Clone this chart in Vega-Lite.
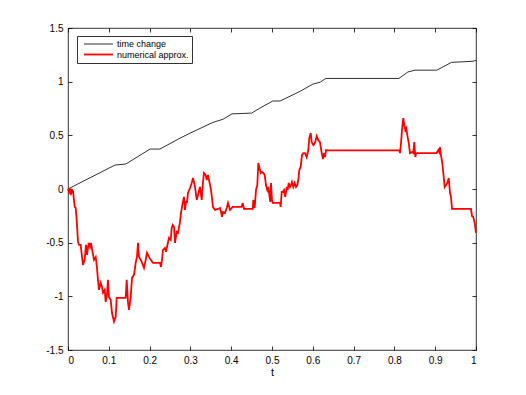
{
  "$schema": "https://vega.github.io/schema/vega-lite/v6.json",
  "width": 408,
  "height": 322,
  "autosize": {"type": "none"},
  "padding": {"left": 68, "top": 28, "right": 50, "bottom": 45},
  "background": "white",
  "config": {
    "view": {"stroke": "#000", "strokeWidth": 0.8},
    "font": "Liberation Sans",
    "axis": {
      "domain": false, "grid": false, "tickSize": -4, "tickColor": "#000", "tickWidth": 0.8,
      "labelFont": "Liberation Sans", "labelFontSize": 10, "labelColor": "#000",
      "labelExpr": "'' + datum.value",
      "titleFont": "Liberation Sans", "titleFontSize": 11, "titleFontWeight": "normal", "titleColor": "#000"
    }
  },
  "data": {"values": [
    {"s": "time change", "t": 0, "v": 0},
    {"s": "time change", "t": 0.115, "v": 0.223},
    {"s": "time change", "t": 0.142, "v": 0.233},
    {"s": "time change", "t": 0.201, "v": 0.372},
    {"s": "time change", "t": 0.225, "v": 0.372},
    {"s": "time change", "t": 0.275, "v": 0.474},
    {"s": "time change", "t": 0.299, "v": 0.52},
    {"s": "time change", "t": 0.355, "v": 0.62},
    {"s": "time change", "t": 0.38, "v": 0.65},
    {"s": "time change", "t": 0.402, "v": 0.7},
    {"s": "time change", "t": 0.45, "v": 0.707},
    {"s": "time change", "t": 0.47, "v": 0.753},
    {"s": "time change", "t": 0.502, "v": 0.82},
    {"s": "time change", "t": 0.52, "v": 0.82},
    {"s": "time change", "t": 0.569, "v": 0.91},
    {"s": "time change", "t": 0.6, "v": 0.977},
    {"s": "time change", "t": 0.618, "v": 0.995},
    {"s": "time change", "t": 0.632, "v": 1.03},
    {"s": "time change", "t": 0.811, "v": 1.03},
    {"s": "time change", "t": 0.833, "v": 1.09},
    {"s": "time change", "t": 0.85, "v": 1.107},
    {"s": "time change", "t": 0.904, "v": 1.107},
    {"s": "time change", "t": 0.94, "v": 1.18},
    {"s": "time change", "t": 0.993, "v": 1.19},
    {"s": "time change", "t": 1.0, "v": 1.2},
    {"s": "numerical approx.", "t": 0, "v": 0},
    {"s": "numerical approx.", "t": 0.0025, "v": -0.028},
    {"s": "numerical approx.", "t": 0.0049, "v": -0.009},
    {"s": "numerical approx.", "t": 0.0066, "v": -0.056},
    {"s": "numerical approx.", "t": 0.0098, "v": -0.009},
    {"s": "numerical approx.", "t": 0.0123, "v": -0.019},
    {"s": "numerical approx.", "t": 0.0164, "v": -0.167},
    {"s": "numerical approx.", "t": 0.0189, "v": -0.177},
    {"s": "numerical approx.", "t": 0.0213, "v": -0.288},
    {"s": "numerical approx.", "t": 0.0245, "v": -0.493},
    {"s": "numerical approx.", "t": 0.027, "v": -0.521},
    {"s": "numerical approx.", "t": 0.0311, "v": -0.521},
    {"s": "numerical approx.", "t": 0.0343, "v": -0.633},
    {"s": "numerical approx.", "t": 0.0368, "v": -0.707},
    {"s": "numerical approx.", "t": 0.0409, "v": -0.66},
    {"s": "numerical approx.", "t": 0.0441, "v": -0.521},
    {"s": "numerical approx.", "t": 0.0466, "v": -0.614},
    {"s": "numerical approx.", "t": 0.0507, "v": -0.502},
    {"s": "numerical approx.", "t": 0.0539, "v": -0.54},
    {"s": "numerical approx.", "t": 0.0564, "v": -0.502},
    {"s": "numerical approx.", "t": 0.0605, "v": -0.595},
    {"s": "numerical approx.", "t": 0.0637, "v": -0.66},
    {"s": "numerical approx.", "t": 0.0679, "v": -0.633},
    {"s": "numerical approx.", "t": 0.0711, "v": -0.735},
    {"s": "numerical approx.", "t": 0.0735, "v": -0.847},
    {"s": "numerical approx.", "t": 0.076, "v": -0.94},
    {"s": "numerical approx.", "t": 0.0801, "v": -0.874},
    {"s": "numerical approx.", "t": 0.0833, "v": -0.912},
    {"s": "numerical approx.", "t": 0.0858, "v": -0.967},
    {"s": "numerical approx.", "t": 0.09, "v": -0.94},
    {"s": "numerical approx.", "t": 0.0924, "v": -1.051},
    {"s": "numerical approx.", "t": 0.0956, "v": -0.986},
    {"s": "numerical approx.", "t": 0.098, "v": -0.847},
    {"s": "numerical approx.", "t": 0.1005, "v": -1.005},
    {"s": "numerical approx.", "t": 0.1047, "v": -1.033},
    {"s": "numerical approx.", "t": 0.1078, "v": -1.153},
    {"s": "numerical approx.", "t": 0.1127, "v": -1.235},
    {"s": "numerical approx.", "t": 0.1169, "v": -1.191},
    {"s": "numerical approx.", "t": 0.1194, "v": -1.014},
    {"s": "numerical approx.", "t": 0.1414, "v": -1.014},
    {"s": "numerical approx.", "t": 0.1439, "v": -0.847},
    {"s": "numerical approx.", "t": 0.1471, "v": -1.06},
    {"s": "numerical approx.", "t": 0.1495, "v": -1.126},
    {"s": "numerical approx.", "t": 0.1537, "v": -1.005},
    {"s": "numerical approx.", "t": 0.1569, "v": -0.828},
    {"s": "numerical approx.", "t": 0.1618, "v": -0.8},
    {"s": "numerical approx.", "t": 0.1659, "v": -0.688},
    {"s": "numerical approx.", "t": 0.1691, "v": -0.633},
    {"s": "numerical approx.", "t": 0.1716, "v": -0.502},
    {"s": "numerical approx.", "t": 0.174, "v": -0.633},
    {"s": "numerical approx.", "t": 0.1782, "v": -0.66},
    {"s": "numerical approx.", "t": 0.1814, "v": -0.688},
    {"s": "numerical approx.", "t": 0.1863, "v": -0.735},
    {"s": "numerical approx.", "t": 0.1904, "v": -0.66},
    {"s": "numerical approx.", "t": 0.1936, "v": -0.595},
    {"s": "numerical approx.", "t": 0.1985, "v": -0.633},
    {"s": "numerical approx.", "t": 0.2027, "v": -0.66},
    {"s": "numerical approx.", "t": 0.2083, "v": -0.688},
    {"s": "numerical approx.", "t": 0.2255, "v": -0.688},
    {"s": "numerical approx.", "t": 0.2279, "v": -0.726},
    {"s": "numerical approx.", "t": 0.2304, "v": -0.66},
    {"s": "numerical approx.", "t": 0.2328, "v": -0.567},
    {"s": "numerical approx.", "t": 0.2377, "v": -0.549},
    {"s": "numerical approx.", "t": 0.2402, "v": -0.586},
    {"s": "numerical approx.", "t": 0.2426, "v": -0.54},
    {"s": "numerical approx.", "t": 0.2475, "v": -0.456},
    {"s": "numerical approx.", "t": 0.2517, "v": -0.474},
    {"s": "numerical approx.", "t": 0.2542, "v": -0.363},
    {"s": "numerical approx.", "t": 0.2566, "v": -0.335},
    {"s": "numerical approx.", "t": 0.2598, "v": -0.353},
    {"s": "numerical approx.", "t": 0.2623, "v": -0.502},
    {"s": "numerical approx.", "t": 0.2664, "v": -0.4},
    {"s": "numerical approx.", "t": 0.2696, "v": -0.409},
    {"s": "numerical approx.", "t": 0.2745, "v": -0.307},
    {"s": "numerical approx.", "t": 0.277, "v": -0.223},
    {"s": "numerical approx.", "t": 0.2811, "v": -0.13},
    {"s": "numerical approx.", "t": 0.2843, "v": -0.074},
    {"s": "numerical approx.", "t": 0.2868, "v": -0.195},
    {"s": "numerical approx.", "t": 0.2892, "v": -0.121},
    {"s": "numerical approx.", "t": 0.2917, "v": -0.121},
    {"s": "numerical approx.", "t": 0.2941, "v": -0.037},
    {"s": "numerical approx.", "t": 0.299, "v": 0.009},
    {"s": "numerical approx.", "t": 0.3032, "v": 0.056},
    {"s": "numerical approx.", "t": 0.3064, "v": 0.102},
    {"s": "numerical approx.", "t": 0.3113, "v": 0.019},
    {"s": "numerical approx.", "t": 0.3154, "v": -0.102},
    {"s": "numerical approx.", "t": 0.3186, "v": -0.056},
    {"s": "numerical approx.", "t": 0.3235, "v": 0.019},
    {"s": "numerical approx.", "t": 0.3277, "v": -0.102},
    {"s": "numerical approx.", "t": 0.3309, "v": 0.065},
    {"s": "numerical approx.", "t": 0.3333, "v": 0.149},
    {"s": "numerical approx.", "t": 0.3375, "v": 0.13},
    {"s": "numerical approx.", "t": 0.34, "v": 0.084},
    {"s": "numerical approx.", "t": 0.3431, "v": 0.13},
    {"s": "numerical approx.", "t": 0.3456, "v": 0.084},
    {"s": "numerical approx.", "t": 0.3498, "v": 0.009},
    {"s": "numerical approx.", "t": 0.3529, "v": -0.084},
    {"s": "numerical approx.", "t": 0.3554, "v": -0.167},
    {"s": "numerical approx.", "t": 0.3603, "v": -0.195},
    {"s": "numerical approx.", "t": 0.3676, "v": -0.186},
    {"s": "numerical approx.", "t": 0.3725, "v": -0.177},
    {"s": "numerical approx.", "t": 0.375, "v": -0.214},
    {"s": "numerical approx.", "t": 0.3775, "v": -0.26},
    {"s": "numerical approx.", "t": 0.3799, "v": -0.214},
    {"s": "numerical approx.", "t": 0.3848, "v": -0.223},
    {"s": "numerical approx.", "t": 0.389, "v": -0.177},
    {"s": "numerical approx.", "t": 0.3922, "v": -0.13},
    {"s": "numerical approx.", "t": 0.3971, "v": -0.195},
    {"s": "numerical approx.", "t": 0.4012, "v": -0.177},
    {"s": "numerical approx.", "t": 0.4037, "v": -0.167},
    {"s": "numerical approx.", "t": 0.4257, "v": -0.167},
    {"s": "numerical approx.", "t": 0.4282, "v": -0.13},
    {"s": "numerical approx.", "t": 0.4314, "v": -0.186},
    {"s": "numerical approx.", "t": 0.4527, "v": -0.186},
    {"s": "numerical approx.", "t": 0.4542, "v": -0.102},
    {"s": "numerical approx.", "t": 0.4576, "v": -0.177},
    {"s": "numerical approx.", "t": 0.4608, "v": -0.009},
    {"s": "numerical approx.", "t": 0.464, "v": 0.037},
    {"s": "numerical approx.", "t": 0.4664, "v": 0.242},
    {"s": "numerical approx.", "t": 0.4689, "v": 0.205},
    {"s": "numerical approx.", "t": 0.4723, "v": 0.149},
    {"s": "numerical approx.", "t": 0.4755, "v": 0.158},
    {"s": "numerical approx.", "t": 0.4787, "v": 0.149},
    {"s": "numerical approx.", "t": 0.4821, "v": 0.13},
    {"s": "numerical approx.", "t": 0.4853, "v": 0.037},
    {"s": "numerical approx.", "t": 0.4885, "v": -0.009},
    {"s": "numerical approx.", "t": 0.4909, "v": 0.019},
    {"s": "numerical approx.", "t": 0.4934, "v": -0.056},
    {"s": "numerical approx.", "t": 0.4958, "v": -0.121},
    {"s": "numerical approx.", "t": 0.4975, "v": 0.056},
    {"s": "numerical approx.", "t": 0.5, "v": -0.102},
    {"s": "numerical approx.", "t": 0.5017, "v": -0.13},
    {"s": "numerical approx.", "t": 0.5196, "v": -0.13},
    {"s": "numerical approx.", "t": 0.5213, "v": -0.167},
    {"s": "numerical approx.", "t": 0.5238, "v": -0.028},
    {"s": "numerical approx.", "t": 0.5262, "v": -0.028},
    {"s": "numerical approx.", "t": 0.5294, "v": -0.009},
    {"s": "numerical approx.", "t": 0.5326, "v": -0.074},
    {"s": "numerical approx.", "t": 0.536, "v": 0.019},
    {"s": "numerical approx.", "t": 0.5385, "v": -0.009},
    {"s": "numerical approx.", "t": 0.5409, "v": 0.056},
    {"s": "numerical approx.", "t": 0.5441, "v": 0.019},
    {"s": "numerical approx.", "t": 0.5466, "v": 0.037},
    {"s": "numerical approx.", "t": 0.549, "v": 0.065},
    {"s": "numerical approx.", "t": 0.5522, "v": 0.019},
    {"s": "numerical approx.", "t": 0.5556, "v": 0.056},
    {"s": "numerical approx.", "t": 0.5588, "v": 0.019},
    {"s": "numerical approx.", "t": 0.562, "v": 0.037},
    {"s": "numerical approx.", "t": 0.5645, "v": 0.084},
    {"s": "numerical approx.", "t": 0.5669, "v": 0.177},
    {"s": "numerical approx.", "t": 0.5703, "v": 0.205},
    {"s": "numerical approx.", "t": 0.5735, "v": 0.316},
    {"s": "numerical approx.", "t": 0.5767, "v": 0.335},
    {"s": "numerical approx.", "t": 0.5809, "v": 0.335},
    {"s": "numerical approx.", "t": 0.585, "v": 0.298},
    {"s": "numerical approx.", "t": 0.589, "v": 0.363},
    {"s": "numerical approx.", "t": 0.5914, "v": 0.474},
    {"s": "numerical approx.", "t": 0.5949, "v": 0.521},
    {"s": "numerical approx.", "t": 0.5973, "v": 0.437},
    {"s": "numerical approx.", "t": 0.6012, "v": 0.409},
    {"s": "numerical approx.", "t": 0.6054, "v": 0.428},
    {"s": "numerical approx.", "t": 0.6096, "v": 0.493},
    {"s": "numerical approx.", "t": 0.6135, "v": 0.456},
    {"s": "numerical approx.", "t": 0.6176, "v": 0.437},
    {"s": "numerical approx.", "t": 0.6218, "v": 0.335},
    {"s": "numerical approx.", "t": 0.625, "v": 0.279},
    {"s": "numerical approx.", "t": 0.6275, "v": 0.335},
    {"s": "numerical approx.", "t": 0.6299, "v": 0.298},
    {"s": "numerical approx.", "t": 0.6324, "v": 0.363},
    {"s": "numerical approx.", "t": 0.6355, "v": 0.36},
    {"s": "numerical approx.", "t": 0.812, "v": 0.36},
    {"s": "numerical approx.", "t": 0.8137, "v": 0.335},
    {"s": "numerical approx.", "t": 0.8162, "v": 0.428},
    {"s": "numerical approx.", "t": 0.8186, "v": 0.549},
    {"s": "numerical approx.", "t": 0.8203, "v": 0.614},
    {"s": "numerical approx.", "t": 0.8218, "v": 0.66},
    {"s": "numerical approx.", "t": 0.8243, "v": 0.595},
    {"s": "numerical approx.", "t": 0.8267, "v": 0.549},
    {"s": "numerical approx.", "t": 0.8292, "v": 0.567},
    {"s": "numerical approx.", "t": 0.8316, "v": 0.502},
    {"s": "numerical approx.", "t": 0.8351, "v": 0.428},
    {"s": "numerical approx.", "t": 0.8382, "v": 0.335},
    {"s": "numerical approx.", "t": 0.8431, "v": 0.344},
    {"s": "numerical approx.", "t": 0.8463, "v": 0.335},
    {"s": "numerical approx.", "t": 0.8488, "v": 0.437},
    {"s": "numerical approx.", "t": 0.8512, "v": 0.298},
    {"s": "numerical approx.", "t": 0.8537, "v": 0.335},
    {"s": "numerical approx.", "t": 0.9037, "v": 0.335},
    {"s": "numerical approx.", "t": 0.9076, "v": 0.363},
    {"s": "numerical approx.", "t": 0.91, "v": 0.344},
    {"s": "numerical approx.", "t": 0.9118, "v": 0.391},
    {"s": "numerical approx.", "t": 0.9142, "v": 0.316},
    {"s": "numerical approx.", "t": 0.9174, "v": 0.242},
    {"s": "numerical approx.", "t": 0.9199, "v": 0.149},
    {"s": "numerical approx.", "t": 0.9233, "v": 0.019},
    {"s": "numerical approx.", "t": 0.9265, "v": 0.037},
    {"s": "numerical approx.", "t": 0.9297, "v": 0.056},
    {"s": "numerical approx.", "t": 0.9331, "v": 0.102},
    {"s": "numerical approx.", "t": 0.9363, "v": -0.037},
    {"s": "numerical approx.", "t": 0.9387, "v": -0.074},
    {"s": "numerical approx.", "t": 0.9412, "v": -0.186},
    {"s": "numerical approx.", "t": 0.9877, "v": -0.186},
    {"s": "numerical approx.", "t": 0.9902, "v": -0.251},
    {"s": "numerical approx.", "t": 0.9934, "v": -0.26},
    {"s": "numerical approx.", "t": 0.9968, "v": -0.316},
    {"s": "numerical approx.", "t": 1.0, "v": -0.409}
  ]},
  "layer": [
    {
      "mark": {"type": "line", "strokeOpacity": 0},
      "encoding": {
        "x": {"field": "t", "type": "quantitative", "scale": {"domain": [0, 1], "nice": false, "zero": false},
              "axis": {"orient": "top", "labels": false, "title": null, "values": [0,0.1,0.2,0.3,0.4,0.5,0.6,0.7,0.8,0.9,1]}},
        "y": {"field": "v", "type": "quantitative", "scale": {"domain": [-1.5, 1.5], "nice": false, "zero": false},
              "axis": {"orient": "right", "labels": false, "title": null, "values": [-1.5,-1,-0.5,0,0.5,1,1.5]}},
        "detail": {"field": "s"}
      }
    },
    {
      "mark": {"type": "line", "interpolate": "linear"},
      "encoding": {
        "x": {"field": "t", "type": "quantitative", "scale": {"domain": [0, 1], "nice": false, "zero": false},
              "axis": {"orient": "bottom", "title": "t", "titlePadding": 1, "labelPadding": 9, "values": [0,0.1,0.2,0.3,0.4,0.5,0.6,0.7,0.8,0.9,1]}},
        "y": {"field": "v", "type": "quantitative", "scale": {"domain": [-1.5, 1.5], "nice": false, "zero": false},
              "axis": {"orient": "left", "title": null, "labelPadding": 9, "values": [-1.5,-1,-0.5,0,0.5,1,1.5]}},
        "color": {"field": "s", "type": "nominal", "sort": null,
                  "scale": {"domain": ["time change", "numerical approx."], "range": ["#1a1a1a", "#ff0000"]},
                  "legend": {"title": null, "orient": "none", "legendX": 9, "legendY": 8,
                             "symbolType": "M-0.33,0H6.1", "symbolSize": 81, "symbolFillColor": "transparent", "labelFontSize": 9, "labelFont": "Liberation Sans",
                             "strokeColor": "#333", "fillColor": "white", "padding": 3, "rowPadding": 0, "labelOffset": 26}},
        "strokeWidth": {"field": "s", "type": "nominal", "sort": null,
                  "scale": {"domain": ["time change", "numerical approx."], "range": [0.9, 1.8]},
                  "legend": null}
      }
    }
  ],
  "resolve": {"axis": {"x": "independent", "y": "independent"}}
}
